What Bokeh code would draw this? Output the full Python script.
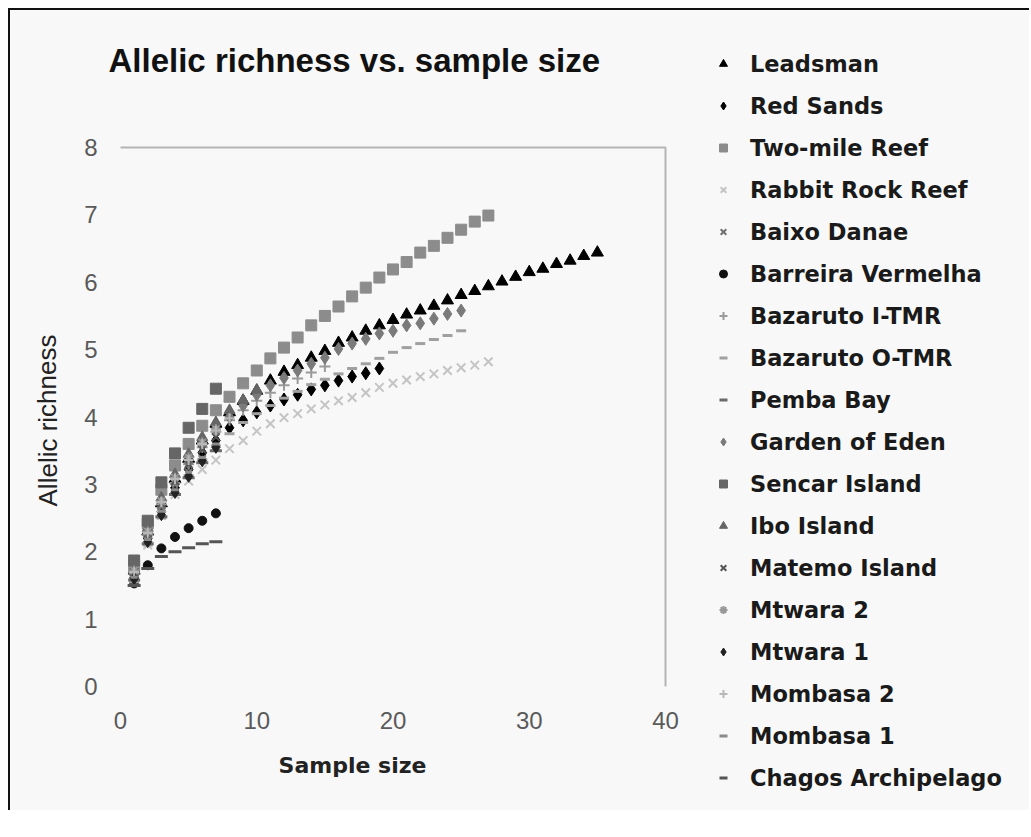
from bokeh.plotting import figure
from bokeh.models import Label, Legend, LegendItem, Range1d
from bokeh.core.properties import value
from bokeh.embed import file_html
from bokeh.resources import INLINE

# ---- data (x = 1..n for each site) ----
leadsman = [1.72, 2.30, 2.72, 3.08, 3.38, 3.65, 3.90, 4.07, 4.24, 4.39, 4.54, 4.67, 4.77, 4.88, 4.98, 5.10, 5.18, 5.28,
            5.36, 5.44, 5.52, 5.58, 5.65, 5.73, 5.81, 5.87, 5.94, 6.01, 6.08, 6.15, 6.20, 6.27, 6.32, 6.39, 6.44]
red_sands = [1.62, 2.20, 2.60, 2.95, 3.22, 3.47, 3.65, 3.84, 3.95, 4.07, 4.17, 4.26, 4.33, 4.41, 4.47, 4.54, 4.60, 4.65, 4.72]
two_mile = [1.80, 2.42, 2.92, 3.28, 3.60, 3.87, 4.10, 4.30, 4.50, 4.69, 4.87, 5.03, 5.18, 5.36, 5.50, 5.64, 5.79, 5.92,
            6.07, 6.19, 6.30, 6.44, 6.54, 6.66, 6.78, 6.90, 6.99]
rabbit_rock = [1.55, 2.10, 2.55, 2.85, 3.05, 3.22, 3.36, 3.53, 3.65, 3.79, 3.90, 3.99, 4.05, 4.12, 4.18, 4.24, 4.29, 4.36,
               4.44, 4.50, 4.55, 4.60, 4.64, 4.69, 4.73, 4.77, 4.82]
baixo_danae = [1.65, 2.25, 2.68, 2.95, 3.18, 3.38, 3.55]
barreira = [1.53, 1.80, 2.05, 2.22, 2.35, 2.46, 2.57]
bazaruto_i = [1.68, 2.25, 2.70, 3.02, 3.30, 3.55, 3.78, 3.95, 4.10, 4.24, 4.36, 4.47, 4.57, 4.66, 4.75]
bazaruto_o = [1.55, 2.10, 2.50, 2.85, 3.13, 3.37, 3.57, 3.75, 3.92, 4.05, 4.17, 4.28, 4.38, 4.48, 4.56, 4.64, 4.72, 4.79,
              4.87, 4.96, 5.03, 5.09, 5.15, 5.21, 5.28]
pemba = [1.58, 2.12, 2.52, 2.85, 3.10, 3.32, 3.50]
garden = [1.65, 2.22, 2.65, 3.00, 3.32, 3.58, 3.82, 4.00, 4.17, 4.33, 4.47, 4.58, 4.69, 4.79, 4.88, 5.01, 5.09, 5.16,
          5.24, 5.28, 5.36, 5.39, 5.46, 5.53, 5.58]
sencar = [1.87, 2.46, 3.03, 3.46, 3.84, 4.12, 4.42]
ibo = [1.75, 2.35, 2.80, 3.15, 3.45, 3.70, 3.92, 4.10, 4.25, 4.40]
matemo = [1.70, 2.28, 2.72, 3.05, 3.30, 3.52, 3.70]
mtwara2 = [1.72, 2.30, 2.75, 3.10, 3.40, 3.62, 3.82]
mtwara1 = [1.60, 2.15, 2.55, 2.88, 3.12, 3.35, 3.55]
mombasa2 = [1.70, 2.28, 2.74, 3.08, 3.36, 3.60, 3.80, 3.98]
mombasa1 = [1.62, 2.18, 2.60, 2.92, 3.18, 3.40, 3.60]
chagos = [1.50, 1.75, 1.93, 2.00, 2.06, 2.12, 2.15]

series = [
    ("Leadsman", leadsman, "triangle", "#000000", 12, 1),
    ("Red Sands", red_sands, "diamond", "#000000", 13, 1),
    ("Two-mile Reef", two_mile, "square", "#8c8c8c", 11, 1),
    ("Rabbit Rock Reef", rabbit_rock, "x", "#c4c4c4", 12, 2),
    ("Baixo Danae", baixo_danae, "x", "#707070", 10, 2),
    ("Barreira Vermelha", barreira, "circle", "#111111", 9, 1),
    ("Bazaruto I-TMR", bazaruto_i, "cross", "#9a9a9a", 11, 2),
    ("Bazaruto O-TMR", bazaruto_o, "dash", "#a0a0a0", 10, 3),
    ("Pemba Bay", pemba, "dash", "#6a6a6a", 12, 3),
    ("Garden of Eden", garden, "diamond", "#7a7a7a", 13, 1),
    ("Sencar Island", sencar, "square", "#666666", 11, 1),
    ("Ibo Island", ibo, "triangle", "#666666", 11, 1),
    ("Matemo Island", matemo, "x", "#555555", 11, 2),
    ("Mtwara 2", mtwara2, "asterisk", "#999999", 10, 2),
    ("Mtwara 1", mtwara1, "diamond", "#222222", 12, 1),
    ("Mombasa 2", mombasa2, "cross", "#b8b8b8", 10, 2),
    ("Mombasa 1", mombasa1, "dash", "#8a8a8a", 7, 3),
    ("Chagos Archipelago", chagos, "dash", "#555555", 13, 3),
]

x_ticks = [0, 10, 20, 30, 40]
y_ticks = [0, 1, 2, 3, 4, 5, 6, 7, 8]
X_MAX, Y_MAX = 40, 8

# ---- layout (canvas pixels) ----
W, H = 1021, 802
PLOT_L, PLOT_T, PLOT_W, PLOT_H = 110, 137, 545, 539
sx = PLOT_W / X_MAX
sy = PLOT_H / Y_MAX
x_range = Range1d(-PLOT_L / sx, X_MAX + (W - PLOT_L - PLOT_W) / sx)
y_range = Range1d(-(H - PLOT_T - PLOT_H) / sy, Y_MAX + PLOT_T / sy)

p = figure(width=W, height=H, output_backend="svg", toolbar_location=None,
           x_range=x_range, y_range=y_range, min_border=0, title_location=None)
p.styles = {"border-left": "2px solid #111", "border-top": "2px solid #111",
            "margin-left": "8px", "margin-top": "8px"}
p.background_fill_color = "#f8f8f8"
p.border_fill_color = "#f8f8f8"
p.outline_line_color = None
p.grid.visible = False
p.axis.visible = False

# plot-area border (top and right only)
p.line([0, X_MAX, X_MAX], [Y_MAX, Y_MAX, 0], line_color="#b4b4b4", line_width=2)

# tick labels
p.text(x=[0] * len(y_ticks), y=y_ticks, text=[str(t) for t in y_ticks], x_offset=-23,
       text_align="right", text_baseline="middle", text_font=value("Liberation Sans"),
       text_font_size="24px", text_color="#5a5a5a")
p.text(x=x_ticks, y=[0] * len(x_ticks), text=[str(t) for t in x_ticks], y_offset=34,
       text_align="center", text_baseline="middle", text_font=value("Liberation Sans"),
       text_font_size="24px", text_color="#5a5a5a")

items = []
for name, vals, marker, color, size, lw in series:
    xs = list(range(1, len(vals) + 1))
    r = p.scatter(xs, vals, marker=marker, size=size, fill_color=color, line_color=color, line_width=lw)
    items.append(LegendItem(label=name, renderers=[r]))

legend = Legend(items=items, location=(703, 21), glyph_width=20, glyph_height=27,
                label_height=27, spacing=15, padding=0, margin=0, label_standoff=17,
                label_text_font="DejaVu Sans", label_text_font_style="bold",
                label_text_font_size="22.5px", label_text_color="#1a1a1a",
                border_line_color=None, background_fill_alpha=0)
p.add_layout(legend, "center")

p.add_layout(Label(x=98, y=H - 50, x_units="screen", y_units="screen", text="Allelic richness vs. sample size",
                   text_font="Liberation Sans", text_font_style="bold", text_font_size="33px",
                   text_color="#111111", text_baseline="middle"))
p.add_layout(Label(x=342, y=H - 755, x_units="screen", y_units="screen", text="Sample size",
                   text_font="DejaVu Sans", text_font_style="bold", text_font_size="22px",
                   text_color="#222222", text_align="center", text_baseline="middle"))
p.add_layout(Label(x=37, y=H - 410, x_units="screen", y_units="screen", text="Allelic richness",
                   text_font="Liberation Sans", text_font_size="26px", angle=1.5708,
                   text_color="#222222", text_align="center", text_baseline="middle"))

open("out.html", "w").write(file_html(p, INLINE))
